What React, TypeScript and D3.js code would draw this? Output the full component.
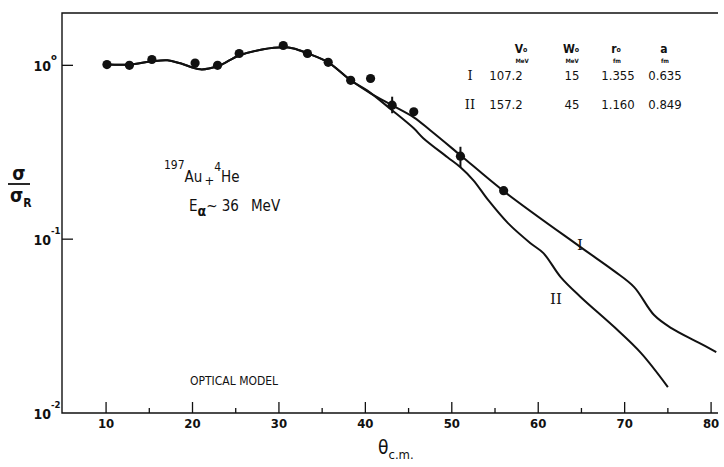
import { useEffect, useRef } from "react";
import * as d3 from "d3";

// ── Data ──────────────────────────────────────────────────────────────────────
const expTheta = [10.1, 12.7, 15.3, 20.3, 22.9, 25.4, 30.5, 33.3, 35.7, 38.3, 40.6, 43.1, 45.6, 51.0, 56.0];
const expRatio = [1.01, 1.0, 1.08, 1.03, 1.0, 1.17, 1.30, 1.17, 1.04, 0.82, 0.84, 0.59, 0.54, 0.30, 0.19];
// error bars [index, low, high]
const expErr: [number, number, number][] = [[11, 0.53, 0.66], [13, 0.26, 0.34]];

const fitITheta = [10.2, 12.7, 15.3, 17.1, 18.6, 20.9, 22.9, 25.4, 28.2, 30.5, 31.7, 33.3, 35.7, 38.3, 40.6, 43.1, 45.6, 47.5, 51.0, 56.0, 64.9, 68.8, 71.1, 73.4, 75.4, 78.5, 80.6];
const fitIRatio = [1.01, 1.01, 1.054, 1.068, 1.027, 0.948, 0.987, 1.14, 1.236, 1.269, 1.25, 1.172, 1.04, 0.82, 0.69, 0.589, 0.502, 0.423, 0.304, 0.189, 0.090, 0.0655, 0.053, 0.0366, 0.0308, 0.0255, 0.0224];

const fitIITheta = [10.2, 12.7, 15.3, 17.1, 18.6, 20.9, 22.9, 25.4, 28.2, 30.5, 31.7, 33.3, 35.7, 38.3, 40.2, 43.1, 45.6, 46.7, 49.5, 51.0, 52.5, 54.2, 56.5, 59.1, 60.6, 62.6, 64.9, 68.8, 71.9, 75.0];
const fitIIRatio = [1.01, 1.01, 1.054, 1.068, 1.027, 0.948, 0.987, 1.14, 1.236, 1.269, 1.25, 1.172, 1.04, 0.82, 0.718, 0.551, 0.434, 0.381, 0.296, 0.259, 0.218, 0.168, 0.1236, 0.0948, 0.0831, 0.0605, 0.0465, 0.0312, 0.0221, 0.0141];

const xMajor = [10, 20, 30, 40, 50, 60, 70, 80];
const xMinor = [15, 25, 35, 45, 55, 65, 75];
const yMajor = [1, 0.1, 0.01];
const yExpLabels = ["o", "-1", "-2"];

const tableHead = [["V", "o", "MeV"], ["W", "o", "MeV"], ["r", "o", "fm"], ["a", "", "fm"]];
const tableRows = [
  ["I", "107.2", "15", "1.355", "0.635"],
  ["II", "157.2", "45", "1.160", "0.849"],
];

const W = 724;
const H = 467;
const X0 = 62, X1 = 718, Y0 = 13, Y1 = 413;
const FONT = "'DejaVu Sans Condensed', 'DejaVu Sans', sans-serif";
const INK = "#111";

export default function App() {
  const svgRef = useRef<SVGSVGElement>(null);

  useEffect(() => {
    const svg = d3.select(svgRef.current);
    svg.selectAll("*").remove();

    const x = d3.scaleLinear().domain([4.9, 80.8]).range([X0, X1]);
    const y = d3.scaleLog().domain([0.01, 2]).range([Y1, Y0]);

    svg.append("rect").attr("width", W).attr("height", H).attr("fill", "#fff");

    // ── Frame ────────────────────────────────────────────────────────────────
    svg.append("path")
      .attr("d", `M${X1},${Y0}H${X0}V${Y1}H${X1}`)
      .attr("fill", "none").attr("stroke", INK).attr("stroke-width", 1.4);

    // x ticks (inward)
    svg.selectAll("line.xmaj").data(xMajor).join("line")
      .attr("x1", d => x(d)).attr("x2", d => x(d))
      .attr("y1", Y1).attr("y2", Y1 - 11)
      .attr("stroke", INK).attr("stroke-width", 1.3);
    svg.selectAll("line.xmin").data(xMinor).join("line")
      .attr("x1", d => x(d)).attr("x2", d => x(d))
      .attr("y1", Y1).attr("y2", Y1 - 5)
      .attr("stroke", INK).attr("stroke-width", 1.3);
    svg.selectAll("text.xlab").data(xMajor).join("text")
      .attr("x", d => x(d)).attr("y", Y1 + 15)
      .attr("text-anchor", "middle")
      .attr("font-family", FONT).attr("font-size", 13).attr("font-weight", "bold")
      .attr("fill", INK)
      .text(d => d);

    // y ticks
    svg.selectAll("line.ymaj").data(yMajor.slice(0, 2)).join("line")
      .attr("x1", X0).attr("x2", X0 + 11)
      .attr("y1", d => y(d)).attr("y2", d => y(d))
      .attr("stroke", INK).attr("stroke-width", 1.3);
    yMajor.forEach((v, i) => {
      svg.append("text")
        .attr("x", X0 - 11).attr("y", y(v) + 6)
        .attr("text-anchor", "end")
        .attr("font-family", FONT).attr("font-size", 14).attr("font-weight", "bold")
        .attr("fill", INK)
        .text("10");
      svg.append("text")
        .attr("x", X0 - 11).attr("y", y(v) - 5)
        .attr("text-anchor", "start")
        .attr("font-family", FONT).attr("font-size", 9.5).attr("font-weight", "bold")
        .attr("fill", INK)
        .text(yExpLabels[i]);
    });

    // axis titles
    const th = svg.append("text")
      .attr("x", 378).attr("y", 454)
      .attr("font-family", FONT).attr("font-size", 19).attr("fill", INK);
    th.append("tspan").text("θ");
    th.append("tspan").attr("dy", 5).attr("font-size", 13).text("c.m.");

    svg.append("text").attr("x", 19).attr("y", 180)
      .attr("text-anchor", "middle").attr("font-family", FONT)
      .attr("font-size", 19).attr("font-weight", "bold").attr("fill", INK).text("σ");
    svg.append("line").attr("x1", 8).attr("x2", 30).attr("y1", 184).attr("y2", 184)
      .attr("stroke", INK).attr("stroke-width", 1.8);
    const sr = svg.append("text").attr("x", 10).attr("y", 202)
      .attr("font-family", FONT).attr("font-size", 19).attr("font-weight", "bold").attr("fill", INK);
    sr.append("tspan").text("σ");
    sr.append("tspan").attr("dy", 5).attr("font-size", 12).text("R");

    // ── Curves ───────────────────────────────────────────────────────────────
    const line = d3.line<[number, number]>()
      .x(d => x(d[0])).y(d => y(d[1]))
      .curve(d3.curveCatmullRom.alpha(0.5));

    const curves = [
      fitITheta.map((t, i) => [t, fitIRatio[i]] as [number, number]),
      fitIITheta.map((t, i) => [t, fitIIRatio[i]] as [number, number]),
    ];
    svg.selectAll("path.fit").data(curves).join("path")
      .attr("d", d => line(d))
      .attr("fill", "none").attr("stroke", INK).attr("stroke-width", 2);

    // ── Experimental points ──────────────────────────────────────────────────
    svg.selectAll("line.err").data(expErr).join("line")
      .attr("x1", d => x(expTheta[d[0]])).attr("x2", d => x(expTheta[d[0]]))
      .attr("y1", d => y(d[1])).attr("y2", d => y(d[2]))
      .attr("stroke", INK).attr("stroke-width", 2);
    svg.selectAll("circle.pt").data(expTheta).join("circle")
      .attr("cx", d => x(d)).attr("cy", (_, i) => y(expRatio[i]))
      .attr("r", 4.6).attr("fill", INK);

    // curve labels
    svg.append("text").attr("x", 580).attr("y", 250)
      .attr("text-anchor", "middle").attr("font-family", "'DejaVu Serif', serif")
      .attr("font-size", 15).attr("fill", INK).text("I");
    svg.append("text").attr("x", 556).attr("y", 304)
      .attr("text-anchor", "middle").attr("font-family", "'DejaVu Serif', serif")
      .attr("font-size", 15).attr("fill", INK).text("II");

    // ── Parameter table ──────────────────────────────────────────────────────
    const colX = [470, 506, 572, 618, 665];
    const headX = [521, 571, 616, 664];
    tableHead.forEach((h, i) => {
      const t = svg.append("text").attr("x", headX[i]).attr("y", 53)
        .attr("text-anchor", "middle").attr("font-family", FONT)
        .attr("font-size", 12).attr("font-weight", "bold").attr("fill", INK);
      t.append("tspan").text(h[0]);
      if (h[1]) t.append("tspan").attr("dy", -1).attr("font-size", 7).text(h[1]);
      svg.append("text").attr("x", headX[i] + 1).attr("y", 63)
        .attr("text-anchor", "middle").attr("font-family", FONT)
        .attr("font-size", 6).attr("font-weight", "bold").attr("fill", INK).text(h[2]);
    });
    tableRows.forEach((row, r) => {
      row.forEach((cell, c) => {
        svg.append("text").attr("x", colX[c]).attr("y", 80 + r * 29)
          .attr("text-anchor", "middle")
          .attr("font-family", c === 0 ? "'DejaVu Serif', serif" : FONT)
          .attr("font-size", 13).attr("fill", INK).text(cell);
      });
    });

    // ── Annotations ──────────────────────────────────────────────────────────
    const rx = svg.append("text").attr("x", 164).attr("y", 182)
      .attr("font-family", FONT).attr("font-size", 15).attr("fill", INK);
    rx.append("tspan").attr("dy", -13).attr("font-size", 12).text("197");
    rx.append("tspan").attr("dy", 13).text("Au");
    rx.append("tspan").attr("dx", 2).attr("dy", 3).attr("font-size", 13).text("+");
    rx.append("tspan").attr("dy", -14).attr("font-size", 12).text("4");
    rx.append("tspan").attr("dy", 11).text("He");

    const en = svg.append("text").attr("x", 189).attr("y", 211)
      .attr("font-family", FONT).attr("font-size", 15).attr("fill", INK);
    en.append("tspan").text("E");
    en.append("tspan").attr("dy", 5).attr("font-size", 14).attr("font-weight", "bold").text("α");
    en.append("tspan").attr("dy", -5).text("~ 36");
    en.append("tspan").attr("dx", 12).text("MeV");

    svg.append("text").attr("x", 190).attr("y", 385)
      .attr("font-family", FONT).attr("font-size", 12).attr("fill", INK)
      .text("OPTICAL MODEL");
  }, []);

  return (
    <svg
      ref={svgRef}
      width={W}
      height={H}
      viewBox={`0 0 ${W} ${H}`}
      style={{ position: "absolute", left: 0, top: 0, display: "block" }}
    />
  );
}
